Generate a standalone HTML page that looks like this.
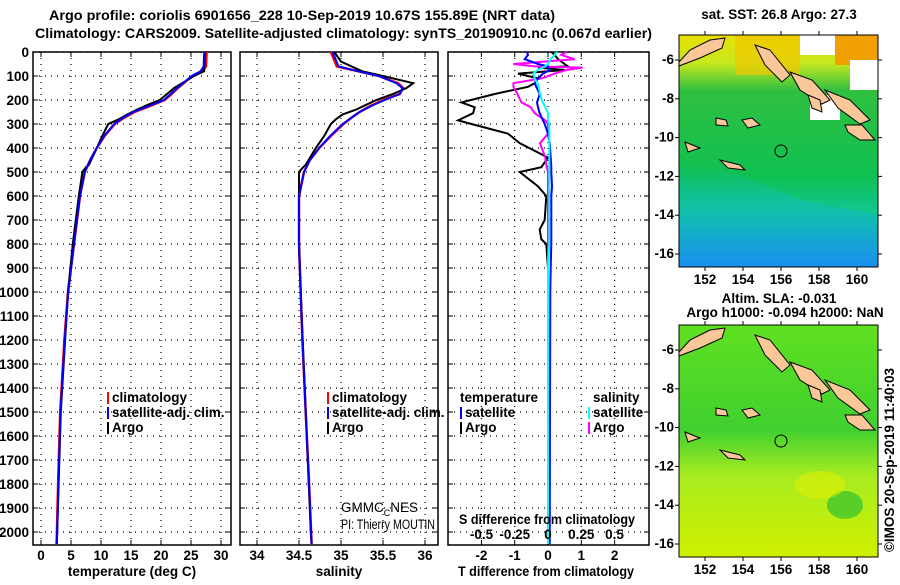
<!DOCTYPE html>
<html><head><meta charset="utf-8"><style>
body{margin:0;background:#fff}
svg text{font-family:"Liberation Sans",sans-serif;font-weight:bold;font-size:13.5px;fill:#000}
</style></head><body>
<svg id="s" width="900" height="580" viewBox="0 0 900 580" xmlns="http://www.w3.org/2000/svg">
<defs>
<linearGradient id="sstG" x1="0" y1="0" x2="0" y2="1">
<stop offset="0" stop-color="#e8e000"/><stop offset="0.12" stop-color="#c8e820"/><stop offset="0.24" stop-color="#30c040"/><stop offset="0.6" stop-color="#10c050"/><stop offset="0.8" stop-color="#10c8a0"/><stop offset="1" stop-color="#1890e8"/>
</linearGradient>
<linearGradient id="slaG" x1="0" y1="0" x2="0" y2="1">
<stop offset="0" stop-color="#60e020"/><stop offset="0.45" stop-color="#40d030"/><stop offset="0.65" stop-color="#a8ec20"/><stop offset="1" stop-color="#d0f000"/>
</linearGradient>
<linearGradient id="sstB" x1="0" y1="0" x2="0" y2="1">
<stop offset="0" stop-color="#10c0a0" stop-opacity="0"/><stop offset="0.4" stop-color="#10c0b0" stop-opacity="0.6"/><stop offset="1" stop-color="#1890f0" stop-opacity="0.9"/>
</linearGradient>
</defs>
<text x="49" y="20" textLength="506" lengthAdjust="spacingAndGlyphs" font-size="14">Argo profile: coriolis 6901656_228 10-Sep-2019 10.67S 155.89E (NRT data)</text>
<text x="35" y="38" textLength="617" lengthAdjust="spacingAndGlyphs" font-size="14">Climatology: CARS2009. Satellite-adjusted climatology: synTS_20190910.nc (0.067d earlier)</text>
<g id="p1"></g>
<g id="p2"></g>
<g id="p3"></g>
<g id="m1">
<text x="779" y="19" text-anchor="middle">sat. SST: 26.8 Argo: 27.3</text>
<rect x="679" y="35" width="199" height="232" fill="url(#sstG)"/>
<rect x="735" y="35" width="65" height="40" fill="#f0c800" opacity="0.7"/>
<rect x="835" y="35" width="43" height="30" fill="#f0a000"/>
<rect x="800" y="35" width="35" height="20" fill="#fff"/>
<rect x="850" y="60" width="28" height="30" fill="#fff"/>
<rect x="810" y="95" width="30" height="25" fill="#fff"/>
<path d="M679 160 L740 175 L800 200 L878 215 L878 267 L679 267 Z" fill="url(#sstB)"/>
<circle cx="781" cy="151" r="6" fill="none" stroke="#000"/>
</g>
<g id="m2">
<text x="779" y="303" text-anchor="middle">Altim. SLA: -0.031</text>
<text x="785" y="317" text-anchor="middle">Argo h1000: -0.094 h2000: NaN</text>
<rect x="679" y="325" width="199" height="232" fill="url(#slaG)"/>
<ellipse cx="845" cy="505" rx="18" ry="14" fill="#30c030" opacity="0.7"/>
<ellipse cx="820" cy="485" rx="25" ry="14" fill="#e8f000" opacity="0.5"/>
<circle cx="781" cy="441" r="6" fill="none" stroke="#000"/>
</g>
<text transform="translate(894,460) rotate(-90)" text-anchor="middle" font-weight="normal">©IMOS 20-Sep-2019 11:40:03</text>
</svg>
<script>
// ---- data ----
const climDepth=[0,60,80,100,130,150,175,200,225,250,275,300,350,400,450,500,600,700,800,1000,1200,1500,1800,2050];
const climTemp=[27.6,27.5,26.8,25.2,23.8,22.8,21.8,20.6,18.2,15.6,13.8,12.3,10.6,9.3,8.2,7.3,6.5,6.0,5.5,4.5,3.9,3.2,2.85,2.6];
const satTemp=[27.2,27.1,26.6,25.1,23.7,22.7,21.6,20.5,18.0,15.4,13.6,12.2,10.5,9.3,8.2,7.3,6.5,6.0,5.5,4.55,3.95,3.25,2.9,2.65];
const argoDepth=[0,40,80,100,130,150,175,200,220,240,260,280,300,350,400,470,480,500,600,700,800,900,1000,1500,2000,2050];
const argoTemp=[27.3,27.3,27.2,25.5,23.5,22.2,21.0,19.8,17.8,16.0,14.4,13.0,11.2,10.2,9.3,8.0,7.5,6.9,6.3,5.8,5.3,4.9,4.5,3.3,2.7,2.6];
const climSal=[34.88,34.95,35.2,35.45,35.68,35.74,35.7,35.5,35.35,35.22,35.12,35.03,34.88,34.74,34.63,34.56,34.5,34.5,34.5,34.52,34.54,34.58,34.62,34.65];
const satSal=[34.9,34.97,35.2,35.45,35.66,35.73,35.7,35.52,35.36,35.22,35.12,35.02,34.87,34.74,34.63,34.56,34.5,34.5,34.5,34.52,34.54,34.58,34.62,34.65];
const argoSal=[34.92,35.0,35.25,35.5,35.86,35.78,35.62,35.42,35.3,35.18,35.02,34.94,34.88,34.8,34.7,34.58,34.55,34.5,34.5,34.5,34.5,34.51,34.52,34.58,34.64,34.65];
const dDepth=[0,12,30,50,60,65,75,90,110,130,145,175,210,230,255,285,300,340,380,440,480,500,560,600,700,740,780,800,900,1000,1500,2050];
const dTargo=[0.1,0.2,0.3,0.5,0.6,-0.3,0.5,-0.9,-0.3,-0.4,-0.6,-1.6,-2.6,-2.2,-2.25,-2.7,-2.3,-1.2,-0.85,0,-0.2,-0.85,-0.3,-0.05,-0.1,-0.25,-0.2,-0.05,0,0,0,0];
const dTsat=[-0.63,-0.6,-0.7,-0.3,0.0,0.0,0.05,-0.15,-0.3,-0.4,-0.35,-0.25,-0.33,-0.3,-0.25,-0.15,-0.1,0,0.05,0.08,0.1,0.1,0.12,0.1,0.1,0.1,0.1,0.1,0.08,0.07,0.06,0.05];
const dSargo=[0.14,0.1,0.2,-0.26,-0.1,0.26,0.14,0.05,-0.05,-0.26,-0.26,-0.23,-0.2,-0.13,-0.1,-0.02,0,0,-0.06,-0.02,-0.01,0,0,0,0,0,0,0,0,0,0,0];
const dSsat=[0.07,0.05,0.02,0.0,-0.02,-0.04,-0.08,-0.11,-0.1,-0.08,-0.07,-0.06,-0.04,-0.02,0,0,0.01,0.01,0.01,0.01,0.01,0.01,0.01,0.01,0.01,0.01,0.01,0.01,0,0,0,0];
const depthTicks=[0,100,200,300,400,500,600,700,800,900,1000,1100,1200,1300,1400,1500,1600,1700,1800,1900,2000];
const tTicks=[0,5,10,15,20,25,30];
const sTicks=[34,34.5,35,35.5,36];
const sTickLabels=['34','34.5','35','35.5','36'];
const dTTicks=[-2,-1,0,1,2];
const dSTicks=[-0.5,-0.25,0,0.25,0.5];
const dSTickLabels=['-0.5','-0.25','0','0.25','0.5'];
const lonTicks=[152,154,156,158,160];
const latTicks=[-6,-8,-10,-12,-14,-16];
// ---- helpers ----
const NS='http://www.w3.org/2000/svg';
function mk(tag,parent,attrs){const e=document.createElementNS(NS,tag);for(const k in attrs)e.setAttribute(k,attrs[k]);parent.appendChild(e);return e;}
function txt(parent,x,y,s,anchor){const t=mk('text',parent,{x:x,y:y,'text-anchor':anchor||'start'});t.textContent=s;return t;}
const TOP=52,BOT=545;
const yD=d=>TOP+d*0.24;
function panel(g,x0,x1,xs,ticks,labels,grid,showY){
  mk('rect',g,{x:x0,y:TOP,width:x1-x0,height:BOT-TOP,fill:'#fff',stroke:'#000','stroke-width':1.5});
  depthTicks.forEach(d=>{const y=yD(d);
    if(grid)mk('line',g,{x1:x0,x2:x1,y1:y,y2:y,stroke:'#000','stroke-dasharray':'1,5','stroke-width':1.2});
    mk('line',g,{x1:x0,x2:x0+5,y1:y,y2:y,stroke:'#000'});mk('line',g,{x1:x1-5,x2:x1,y1:y,y2:y,stroke:'#000'});
    if(showY){const t=txt(g,29,y+5,String(d),'end');}
  });
  ticks.forEach((v,i)=>{const x=xs(v);
    mk('line',g,{x1:x,x2:x,y1:TOP,y2:BOT,stroke:'#000','stroke-dasharray':'1,5','stroke-width':1.2});
    mk('line',g,{x1:x,x2:x,y1:BOT-5,y2:BOT,stroke:'#000'});mk('line',g,{x1:x,x2:x,y1:TOP,y2:TOP+5,stroke:'#000'});
    if(labels){const t=txt(g,x,560,labels[i],'middle');}
  });
}
function line(g,xs,depths,vals,color,w,name){
  const pts=depths.map((d,i)=>xs(vals[i]).toFixed(1)+','+yD(d).toFixed(1)).join(' ');
  const p=mk('polyline',g,{points:pts,fill:'none',stroke:color,'stroke-width':w});
  
  
}
function legend(g,x,y,items){items.forEach((it,i)=>{
  mk('rect',g,{x:x,y:y+i*15-10,width:2,height:12,fill:it[1]});
  const t=txt(g,x+5,y+i*15,it[0]);
  
  
});}
// panel 1
const p1=document.getElementById('p1');
const xT=v=>41+v*6;
panel(p1,33,231,xT,tTicks,tTicks.map(String),true,true);
line(p1,xT,climDepth,climTemp,'#f00',2.5,'climatology-temperature-line');
line(p1,xT,argoDepth,argoTemp,'#000',2,'argo-temperature-line');
line(p1,xT,climDepth,satTemp,'#00f',2,'satellite-temperature-line');
legend(p1,107,402,[['climatology','#f00'],['satellite-adj. clim.','#00f'],['Argo','#000']]);
let t=txt(p1,132,576,'temperature (deg C)','middle');
// panel 2
const p2=document.getElementById('p2');
const xS=v=>257+(v-34)*84;
panel(p2,240,438,xS,sTicks,sTickLabels,true,false);
line(p2,xS,climDepth,climSal,'#f00',2.5,'climatology-salinity-line');
line(p2,xS,argoDepth,argoSal,'#000',2,'argo-salinity-line');
line(p2,xS,climDepth,satSal,'#00f',2,'satellite-salinity-line');
legend(p2,327,402,[['climatology','#f00'],['satellite-adj. clim.','#00f'],['Argo','#000']]);
t=txt(p2,339,576,'salinity','middle');
t=mk('text',p2,{x:341,y:512,'font-size':'12'});


t.innerHTML='<tspan style="font-weight:normal">GMMC</tspan><tspan dy="4" font-size="9" style="font-weight:normal">C</tspan><tspan dy="-4" style="font-weight:normal">NES</tspan>';
t=mk('text',p2,{x:341,y:529,'font-size':'12',textLength:'94',lengthAdjust:'spacingAndGlyphs',style:'font-weight:normal'});t.textContent='PI: Thierry MOUTIN';


// panel 3
const p3=document.getElementById('p3');
const xdT=v=>548+v*33.3;
const xdS=v=>548+v*133;
panel(p3,448,649,xdT,dTTicks,dTTicks.map(String),true,false);
line(p3,xdT,dDepth,dTargo,'#000',2,'argo-temperature-difference-line');
line(p3,xdS,dDepth,dSargo,'#f0f',2,'argo-salinity-difference-line');
line(p3,xdT,dDepth,dTsat,'#00f',2,'satellite-temperature-difference-line');
line(p3,xdS,dDepth,dSsat,'#0ff',2,'satellite-salinity-difference-line');
t=txt(p3,460,402,'temperature');
legend(p3,460,417,[['satellite','#00f'],['Argo','#000']]);
t=txt(p3,593,402,'salinity');
legend(p3,588,417,[['satellite','#0ff'],['Argo','#f0f']]);
t=mk('text',p3,{x:459,y:524,textLength:'176',lengthAdjust:'spacingAndGlyphs'});t.textContent='S difference from climatology';


dSTicks.forEach((v,i)=>{const l=txt(p3,xdS(v),539,dSTickLabels[i],'middle');
  
  });
t=mk('text',p3,{x:458,y:576,textLength:'176',lengthAdjust:'spacingAndGlyphs'});t.textContent='T difference from climatology';


// map axes
function mapAxes(g,y0){
  const x0=679,x1=878,h=232;
  mk('rect',g,{x:x0,y:y0,width:x1-x0,height:h,fill:'none',stroke:'#000'});
  lonTicks.forEach(v=>{const x=705+(v-152)*19;
    mk('line',g,{x1:x,x2:x,y1:y0+h,y2:y0+h+4,stroke:'#000'});mk('line',g,{x1:x,x2:x,y1:y0,y2:y0-4,stroke:'#000'});
    const l=txt(g,x,y0+h+17,String(v),'middle');
    
    });
  latTicks.forEach(v=>{const y=y0+25+(-6-v)*19.4;
    mk('line',g,{x1:x0-4,x2:x0,y1:y,y2:y,stroke:'#000'});mk('line',g,{x1:x1,x2:x1+4,y1:y,y2:y,stroke:'#000'});
    const l=txt(g,674,y+4,String(v),'end');
    
    });
  const isl=[[679,62,690,50,710,40,725,38,722,48,700,58,679,66],[755,45,770,50,790,75,782,82,765,65],[790,72,812,80,830,100,822,104,800,90],[808,95,820,100,822,112,812,108],[825,90,850,100,870,120,860,124,838,108],[845,125,862,125,875,140,860,140,848,132],[742,120,752,118,760,125,748,128],[716,118,726,120,728,126,716,125],[720,160,740,165,745,170,728,168],[685,142,700,148,688,152]];
  isl.forEach(p=>{const pts=[];for(let i=0;i<p.length;i+=2)pts.push(p[i]+','+(p[i+1]+y0-35));
    const e=mk('polygon',g,{points:pts.join(' '),fill:'#fac898',stroke:'#000','stroke-width':1});
    
    });
}
mapAxes(document.getElementById('m1'),35);
mapAxes(document.getElementById('m2'),325);
</script>
</body></html>
